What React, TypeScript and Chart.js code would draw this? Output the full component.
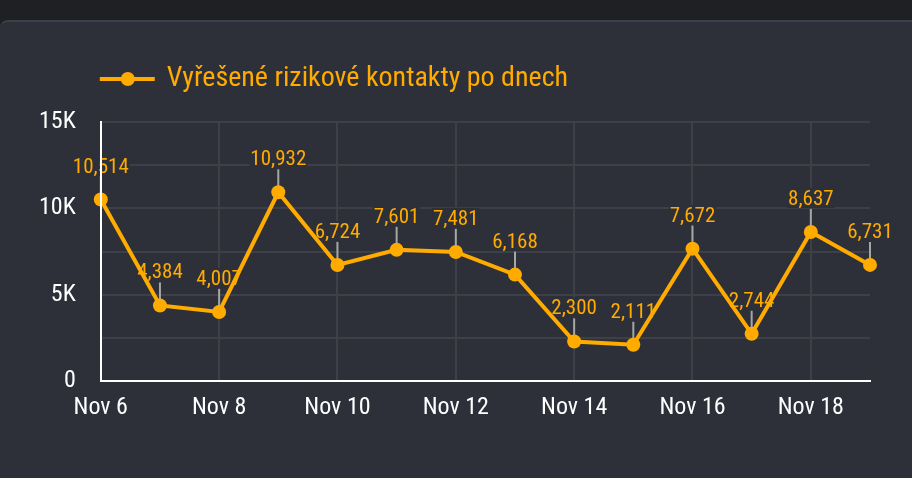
import React, { useEffect, useRef } from 'react';
import { Chart, registerables } from 'chart.js';

Chart.register(...registerables);

const categories = ['Nov 6', 'Nov 7', 'Nov 8', 'Nov 9', 'Nov 10', 'Nov 11', 'Nov 12', 'Nov 13', 'Nov 14', 'Nov 15', 'Nov 16', 'Nov 17', 'Nov 18', 'Nov 19'];
const seriesValues = [10514, 4384, 4007, 10932, 6724, 7601, 7481, 6168, 2300, 2111, 7672, 2744, 8637, 6731];
const seriesLabel = 'Vyřešené rizikové kontakty po dnech';
const yTickValues = [0, 5000, 10000, 15000];
const yTickLabels = ['0', '5K', '10K', '15K'];

const FONT = '"Roboto Condensed", "Liberation Sans Narrow", "DejaVu Sans Condensed", "Arial Narrow", sans-serif';
const ORANGE = '#ffab00';
const GRID = '#3e4047';
const CARD = '#2d3039';
const PAGE = '#1f2024';

const valueLabelsPlugin = {
  id: 'valueLabels',
  beforeDatasetsDraw(chart: any) {
    const ctx = chart.ctx;
    const meta = chart.getDatasetMeta(0);
    const data = chart.data.datasets[0].data as number[];
    ctx.save();
    ctx.font = `21px ${FONT}`;
    ctx.textAlign = 'center';
    ctx.textBaseline = 'alphabetic';
    meta.data.forEach((pt: any, i: number) => {
      const x = pt.x;
      const y = pt.y;
      const text = data[i].toLocaleString('en-US');
      const w = ctx.measureText(text).width;
      ctx.fillStyle = CARD;
      ctx.fillRect(x - w / 2 - 1, y - 27 - 17, w + 2, 20);
      ctx.strokeStyle = '#a6a6a6';
      ctx.lineWidth = 2;
      ctx.beginPath();
      ctx.moveTo(x, y - 23);
      ctx.lineTo(x, y);
      ctx.stroke();
      ctx.fillStyle = ORANGE;
      ctx.fillText(text, x, y - 27);
    });
    ctx.restore();
  },
};

const legendPlugin = {
  id: 'customLegend',
  afterDraw(chart: any) {
    const ctx = chart.ctx;
    const left = chart.chartArea.left - 1;
    const y = 79;
    ctx.save();
    ctx.strokeStyle = ORANGE;
    ctx.lineWidth = 4;
    ctx.beginPath();
    ctx.moveTo(left, y);
    ctx.lineTo(left + 55, y);
    ctx.stroke();
    ctx.fillStyle = ORANGE;
    ctx.beginPath();
    ctx.arc(left + 28, y, 7, 0, Math.PI * 2);
    ctx.fill();
    ctx.font = `28px ${FONT}`;
    ctx.textAlign = 'left';
    ctx.textBaseline = 'middle';
    ctx.fillText(chart.data.datasets[0].label, left + 67, y);
    ctx.restore();
  },
};

export default function App() {
  const ref = useRef<HTMLCanvasElement | null>(null);

  useEffect(() => {
    if (!ref.current) return;
    const chart = new Chart(ref.current, {
      type: 'line',
      data: {
        labels: categories,
        datasets: [
          {
            label: seriesLabel,
            data: seriesValues,
            borderColor: ORANGE,
            backgroundColor: ORANGE,
            borderWidth: 4,
            pointRadius: 7,
            pointHoverRadius: 7,
            pointBackgroundColor: ORANGE,
            pointBorderWidth: 0,
            tension: 0,
            clip: false as any,
          },
        ],
      },
      options: {
        animation: false,
        responsive: false,
        devicePixelRatio: 1,
        layout: { padding: { top: 122, left: 14, right: 42, bottom: 44 } },
        plugins: {
          legend: { display: false },
          tooltip: { enabled: false },
        },
        scales: {
          x: {
            grid: {
              color: (c: any) => (c.index % 2 === 0 ? GRID : 'rgba(0,0,0,0)'),
              lineWidth: 2,
              drawTicks: false,
            },
            border: { color: '#ffffff', width: 2, z: 1 },
            ticks: {
              autoSkip: false,
              maxRotation: 0,
              color: '#ffffff',
              padding: 12,
              font: { family: FONT, size: 24 },
              callback: (_v: any, i: number) => (i % 2 === 0 ? categories[i] : ''),
            },
          },
          y: {
            min: 0,
            max: 15000,
            grid: { color: GRID, lineWidth: 2, drawTicks: false },
            border: { color: '#ffffff', width: 2, z: 1 },
            ticks: {
              stepSize: 2500,
              color: '#ffffff',
              padding: 25,
              font: { family: FONT, size: 24 },
              callback: (v: any) => {
                const k = yTickValues.indexOf(Number(v));
                return k >= 0 ? yTickLabels[k] : '';
              },
            },
          },
        },
      },
      plugins: [valueLabelsPlugin, legendPlugin],
    });
    return () => chart.destroy();
  }, []);

  return (
    <div style={{ position: 'fixed', inset: 0, background: PAGE, overflow: 'hidden' }}>
      <div
        style={{
          position: 'absolute',
          top: 20,
          left: 0,
          width: 960,
          height: 470,
          background: CARD,
          borderTop: '2px solid #3c3f46',
          borderRadius: 8,
          boxSizing: 'border-box',
        }}
      />
      <canvas ref={ref} width={912} height={478} style={{ position: 'absolute', left: 0, top: 0, width: 912, height: 478 }} />
    </div>
  );
}
